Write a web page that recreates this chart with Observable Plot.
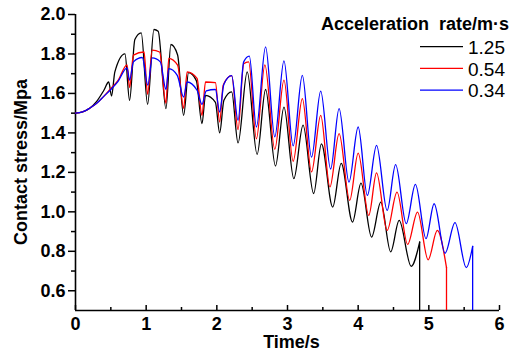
<!DOCTYPE html>
<html><head><meta charset="utf-8">
<script src="https://cdn.jsdelivr.net/npm/d3@7"></script>
<script src="https://cdn.jsdelivr.net/npm/@observablehq/plot@0.6"></script>
<style>
body{margin:0;background:#fff;}
#wrap{position:relative;width:519px;height:355px;overflow:hidden;font-family:"Liberation Sans",Arial,sans-serif;}
#wrap svg{position:absolute;left:0;top:0;}
</style></head><body><div id="wrap"></div>
<script>
// ---- data ----
const seriesNames = ["1.25", "0.54", "0.34"];
const seriesColors = ["#000000", "#ff0000", "#0000ff"];

const time125 = [0,0.1,0.2,0.3,0.4,0.47,0.51,0.557,0.70,0.765,0.84,0.93,1.02,1.11,1.17,1.28,1.35,1.445,1.53,1.60,1.71,1.79,1.84,1.98,2.04,2.10,2.21,2.30,2.43,2.57,2.69,2.83,2.95,3.09,3.22,3.37,3.48,3.64,3.76,3.92,4.04,4.19,4.32,4.46,4.58,4.75,4.87];
const stress125 = [1.50,1.506,1.525,1.56,1.615,1.658,1.587,1.709,1.80,1.565,1.873,1.907,1.545,1.924,1.915,1.523,1.848,1.795,1.489,1.705,1.665,1.447,1.59,1.555,1.40,1.565,1.608,1.349,1.709,1.291,1.62,1.232,1.531,1.168,1.439,1.093,1.344,1.024,1.246,0.948,1.145,0.872,1.049,0.797,0.957,0.724,0.847];

const time054 = [0,0.1,0.2,0.3,0.4,0.5,0.6,0.73,0.765,0.82,0.97,1.02,1.086,1.19,1.28,1.32,1.445,1.53,1.58,1.72,1.79,1.84,1.98,2.04,2.09,2.21,2.30,2.38,2.45,2.56,2.68,2.82,2.95,3.08,3.21,3.34,3.47,3.60,3.73,3.88,4.0,4.15,4.26,4.41,4.55,4.70,4.84,4.99,5.12,5.25];
const stress054 = [1.50,1.506,1.525,1.55,1.585,1.625,1.665,1.745,1.63,1.794,1.81,1.596,1.819,1.81,1.55,1.778,1.743,1.525,1.709,1.676,1.489,1.658,1.655,1.455,1.642,1.69,1.417,1.75,1.76,1.37,1.745,1.317,1.667,1.256,1.574,1.202,1.489,1.126,1.396,1.058,1.298,0.982,1.197,0.906,1.10,0.835,0.999,0.757,0.906,0.717];

const time034 = [0,0.1,0.2,0.3,0.4,0.5,0.6,0.73,0.765,0.82,0.945,1.024,1.086,1.20,1.28,1.32,1.44,1.53,1.58,1.72,1.79,1.85,1.98,2.04,2.10,2.21,2.30,2.38,2.46,2.56,2.69,2.82,2.95,3.08,3.21,3.34,3.47,3.61,3.73,3.87,4.0,4.13,4.26,4.41,4.53,4.68,4.81,4.96,5.075,5.23,5.37,5.53,5.62];
const stress034 = [1.50,1.506,1.525,1.55,1.585,1.62,1.66,1.73,1.667,1.76,1.782,1.642,1.78,1.76,1.62,1.726,1.692,1.582,1.658,1.616,1.545,1.613,1.62,1.506,1.647,1.69,1.464,1.76,1.789,1.43,1.836,1.38,1.765,1.334,1.692,1.277,1.612,1.217,1.523,1.151,1.43,1.083,1.337,1.007,1.239,0.94,1.139,0.864,1.041,0.79,0.945,0.717,0.825];

const xDomain = [0, 6];
const yDomain = [0.5, 2.0];
const xMajor = [0,1,2,3,4,5,6];
const xMinor = [0.5,1.5,2.5,3.5,4.5,5.5];
const yMajor = [0.6,0.8,1.0,1.2,1.4,1.6,1.8,2.0];
const yMinor = [0.7,0.9,1.1,1.3,1.5,1.7,1.9];
const legendTitle = "Acceleration\u00A0 rate/m·s";
const xTitle = "Time/s";
const yTitle = "Contact stress/Mpa";

// ---- build ----
const times = [time125, time054, time034];
const stresses = [stress125, stress054, stress034];
const series = seriesNames.map((name, k) => ({
  name, color: seriesColors[k],
  rows: times[k].map((t, i) => ({t, s: stresses[k][i]}))
}));

const FONT = '"Liberation Sans", Arial, sans-serif';
const lineMarks = [];
for (const sr of series) {
  lineMarks.push(Plot.line(sr.rows, {x: "t", y: "s", stroke: sr.color, strokeWidth: 1.3, curve: "monotone-x"}));
  const last = sr.rows[sr.rows.length - 1];
  lineMarks.push(Plot.ruleX([last], {x: "t", y1: "s", y2: () => yDomain[0], stroke: sr.color, strokeWidth: 1.3}));
}

const chart = Plot.plot({
  width: 519, height: 355,
  marginLeft: 75, marginRight: 20, marginTop: 14, marginBottom: 45,
  style: {fontFamily: FONT, fontSize: "18px", fontWeight: "bold", background: "white", color: "black"},
  x: {domain: xDomain},
  y: {domain: yDomain},
  marks: [
    Plot.axisY({ticks: yMajor, tickSize: 7, tickPadding: 3, tickFormat: d => d.toFixed(1), label: null, strokeWidth: 1.5}),
    Plot.axisY({ticks: yMinor, tickSize: 4, fill: "none", label: null, strokeWidth: 1.5}),
    Plot.axisX({ticks: xMajor, tickSize: 0, tickPadding: 7, tickFormat: d => String(d), label: null}),
    Plot.axisX({ticks: xMajor, tickSize: -5, fill: "none", label: null, strokeWidth: 1.5}),
    Plot.axisX({ticks: xMinor, tickSize: -3, fill: "none", label: null, strokeWidth: 1.5}),
    Plot.ruleX([xDomain[0]], {strokeWidth: 1.6}),
    Plot.ruleY([yDomain[0]], {strokeWidth: 1.6}),
    ...lineMarks
  ]
});
const wrap = document.getElementById("wrap");
wrap.appendChild(chart);

// overlay: axis titles and legend
const ov = d3.select(wrap).append("svg").attr("width", 519).attr("height", 355)
  .style("pointer-events", "none").style("font-family", FONT);
ov.append("text").attr("x", 291.5).attr("y", 348).attr("text-anchor", "middle")
  .attr("font-size", 18).attr("font-weight", "bold").text(xTitle);
ov.append("text").attr("transform", "translate(27,162) rotate(-90)").attr("text-anchor", "middle")
  .attr("font-size", 18).attr("font-weight", "bold").text(yTitle);
ov.append("text").attr("x", 321).attr("y", 30).attr("font-size", 18).attr("font-weight", "bold")
  .text(legendTitle);
series.forEach((sr, i) => {
  const y = 46.7 + i * 21.7;
  ov.append("line").attr("x1", 420).attr("x2", 463).attr("y1", y).attr("y2", y)
    .attr("stroke", sr.color).attr("stroke-width", 1.3);
  ov.append("text").attr("x", 468).attr("y", y + 7.3).attr("font-size", 19).text(sr.name);
});
</script></body></html>
